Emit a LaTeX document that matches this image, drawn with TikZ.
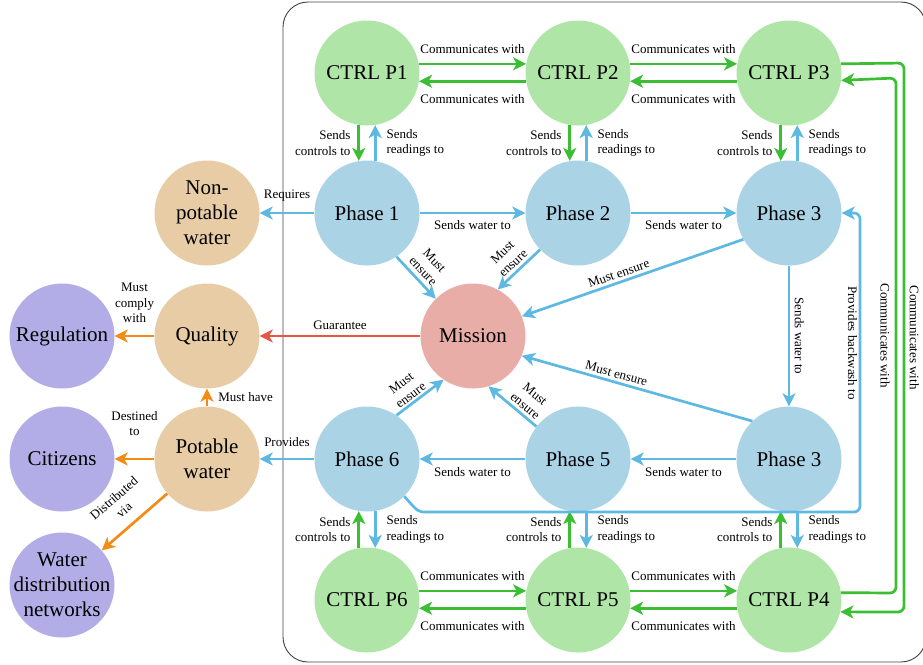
\documentclass[tikz,border=0pt]{standalone}
\usepackage{fontspec}
\setmainfont{Liberation Serif}
\usetikzlibrary{arrows.meta}
\definecolor{gfill}{HTML}{B0E5A8}
\definecolor{bfill}{HTML}{ABD3E6}
\definecolor{rfill}{HTML}{E8ADA6}
\definecolor{tfill}{HTML}{E8CCA6}
\definecolor{pfill}{HTML}{B2ADE6}
\definecolor{gline}{HTML}{3BBE33}
\definecolor{bline}{HTML}{5DB8E2}
\definecolor{rline}{HTML}{E85540}
\definecolor{oline}{HTML}{F28C14}
\begin{document}
\begin{tikzpicture}[x=1pt,y=-1pt,
  bub/.style={circle, inner sep=0pt, minimum size=105pt, draw=none},
  nlab/.style={font=\fontsize{21}{25}\selectfont, align=center, inner sep=0pt},
  conn/.style={line width=2.7pt, -{Stealth[length=13pt,width=13pt,inset=3.5pt]}},
  elab/.style={font=\fontsize{13}{15.5}\selectfont, inner sep=2pt, text=black},
  gr/.style={conn, draw=gline},
  bl/.style={conn, draw=bline},
  rd/.style={conn, draw=rline},
  og/.style={conn, draw=oline},
]
\useasboundingbox (0,0) rectangle (923,664);
\draw[draw=black!75, line width=0.9pt, rounded corners=25pt] (283,2) rectangle (926,662);

% controllers
\node[bub, fill=gfill, label={[nlab]center:{CTRL P1}}] (c1) at (367,73) {};
\node[bub, fill=gfill, label={[nlab]center:{CTRL P2}}] (c2) at (578,73) {};
\node[bub, fill=gfill, label={[nlab]center:{CTRL P3}}] (c3) at (789,73) {};
\node[bub, fill=gfill, label={[nlab]center:{CTRL P6}}] (c6) at (367,600) {};
\node[bub, fill=gfill, label={[nlab]center:{CTRL P5}}] (c5) at (578,600) {};
\node[bub, fill=gfill, label={[nlab]center:{CTRL P4}}] (c4) at (789,600) {};
% phases
\node[bub, fill=bfill, label={[nlab]center:{Phase 1}}] (ph1) at (367,213) {};
\node[bub, fill=bfill, label={[nlab]center:{Phase 2}}] (ph2) at (578,213) {};
\node[bub, fill=bfill, label={[nlab]center:{Phase 3}}] (ph3a) at (789,213) {};
\node[bub, fill=bfill, label={[nlab]center:{Phase 6}}] (ph6) at (367,459) {};
\node[bub, fill=bfill, label={[nlab]center:{Phase 5}}] (ph5) at (578,459) {};
\node[bub, fill=bfill, label={[nlab]center:{Phase 3}}] (ph3b) at (789,459) {};
% mission
\node[bub, fill=rfill, label={[nlab]center:{Mission}}] (mis) at (473,336) {};
% left
\node[bub, fill=tfill, label={[nlab]center:{Non-\\potable\\water}}] (np) at (207,213) {};
\node[bub, fill=tfill, label={[nlab]center:{Quality}}] (q) at (207,336) {};
\node[bub, fill=tfill, label={[nlab]center:{Potable\\water}}] (pw) at (207,459) {};
\node[bub, fill=pfill, label={[nlab]center:{Regulation}}] (reg) at (62,336) {};
\node[bub, fill=pfill, label={[nlab]center:{Citizens}}] (cit) at (62,459) {};
\node[bub, fill=pfill, label={[nlab]center:{Water\\distribution\\networks}}] (wdn) at (62,585) {};

% controller communication (top)
\draw[gr] (c1.10) -- node[elab, above=6.5pt]{Communicates with} (c2.170);
\draw[gr] (c2.-171) -- node[elab, below=9.5pt]{Communicates with} (c1.-9);
\draw[gr] (c2.10) -- node[elab, above=6.5pt]{Communicates with} (c3.170);
\draw[gr] (c3.-171) -- node[elab, below=9.5pt]{Communicates with} (c2.-9);
% controller communication (bottom)
\draw[gr] (c6.10) -- node[elab, above=6.5pt]{Communicates with} (c5.170);
\draw[gr] (c5.-171) -- node[elab, below=9.5pt]{Communicates with} (c6.-9);
\draw[gr] (c5.10) -- node[elab, above=6.5pt]{Communicates with} (c4.170);
\draw[gr] (c4.-171) -- node[elab, below=9.5pt]{Communicates with} (c5.-9);
% right side
\draw[gr, rounded corners=6pt] (c3.10) -- (904,63) -- node[elab, midway, anchor=south, rotate=-90, inner sep=4.5pt]{Communicates with} (904,612) -- (c4.-13);
\draw[gr, rounded corners=6pt] (c4.8) -- (896,593) -- node[elab, midway, anchor=north, rotate=-90, inner sep=5pt]{Communicates with} (896,78) -- (c3.-8);

% controls / readings top
\draw[gr] (c1.261) -- node[elab, left=5pt, align=right]{Sends\\controls to} (ph1.99);
\draw[bl] (ph1.81) -- node[elab, right=8pt, align=left]{Sends\\readings to} (c1.279);
\draw[gr] (c2.261) -- node[elab, left=5pt, align=right]{Sends\\controls to} (ph2.99);
\draw[bl] (ph2.81) -- node[elab, right=8pt, align=left]{Sends\\readings to} (c2.279);
\draw[gr] (c3.261) -- node[elab, left=5pt, align=right]{Sends\\controls to} (ph3a.99);
\draw[bl] (ph3a.81) -- node[elab, right=8pt, align=left]{Sends\\readings to} (c3.279);
% controls / readings bottom
\draw[gr] (c6.99) -- node[elab, left=5pt, align=right]{Sends\\controls to} (ph6.261);
\draw[bl] (ph6.279) -- node[elab, right=8pt, align=left]{Sends\\readings to} (c6.81);
\draw[gr] (c5.99) -- node[elab, left=5pt, align=right]{Sends\\controls to} (ph5.261);
\draw[bl] (ph5.279) -- node[elab, right=8pt, align=left]{Sends\\readings to} (c5.81);
\draw[gr] (c4.99) -- node[elab, left=5pt, align=right]{Sends\\controls to} (ph3b.261);
\draw[bl] (ph3b.279) -- node[elab, right=8pt, align=left]{Sends\\readings to} (c4.81);

% water flow
\draw[bl] (ph1.east) -- node[elab, below=4pt]{Sends water to} (ph2.west);
\draw[bl] (ph2.east) -- node[elab, below=4pt]{Sends water to} (ph3a.west);
\draw[bl] (ph3a.south) -- node[elab, anchor=south, rotate=-90, inner sep=4.5pt]{Sends water to} (ph3b.north);
\draw[bl] (ph3b.west) -- node[elab, below=5pt]{Sends water to} (ph5.east);
\draw[bl] (ph5.west) -- node[elab, below=5pt]{Sends water to} (ph6.east);
\draw[bl, rounded corners=6pt] (ph6.-45) .. controls (418,512) .. (432,512) -- (860,512) -- node[elab, pos=0.565, anchor=north, rotate=-90, inner sep=1.5pt]{Provides backwash to} (860,213) -- (ph3a.east);

% must ensure
\draw[bl] (ph1.-56) -- node[elab, sloped, above=2pt, align=center]{Must\\ensure} (mis.135);
\draw[bl] (ph2.224) -- node[elab, sloped, above=1pt, align=center]{Must\\ensure} (mis.62);
\draw[bl] (ph3a.210) -- node[elab, sloped, above=1pt, pos=0.55]{Must ensure} (mis.22);
\draw[bl] (ph3b.134) -- node[elab, sloped, above=1pt, pos=0.6]{Must ensure} (mis.-22);
\draw[bl] (ph5.142) -- node[elab, sloped, above=1pt, pos=0.35, align=center]{Must\\ensure} (mis.-73);
\draw[bl] (ph6.56) -- node[elab, sloped, above=0pt, pos=0.4, align=center]{Must\\ensure} (mis.236);

% left side
\draw[bl] (ph1.west) -- node[elab, above=8pt]{Requires} (np.east);
\draw[rd] (mis.west) -- node[elab, above=3pt]{Guarantee} (q.east);
\draw[og] (q.west) -- node[elab, above=10pt, align=center]{Must\\comply\\with} (reg.east);
\draw[og] (pw.north) -- node[elab, right=8pt]{Must have} (q.south);
\draw[og] (pw.west) -- node[elab, above=20pt, align=center]{Destined\\to} (cit.east);
\draw[og] (pw) -- node[elab, sloped, above=8pt, align=center]{Distributed\\via} (wdn);
\draw[bl] (ph6.west) -- node[elab, above=9pt]{Provides} (pw.east);
\end{tikzpicture}
\end{document}
